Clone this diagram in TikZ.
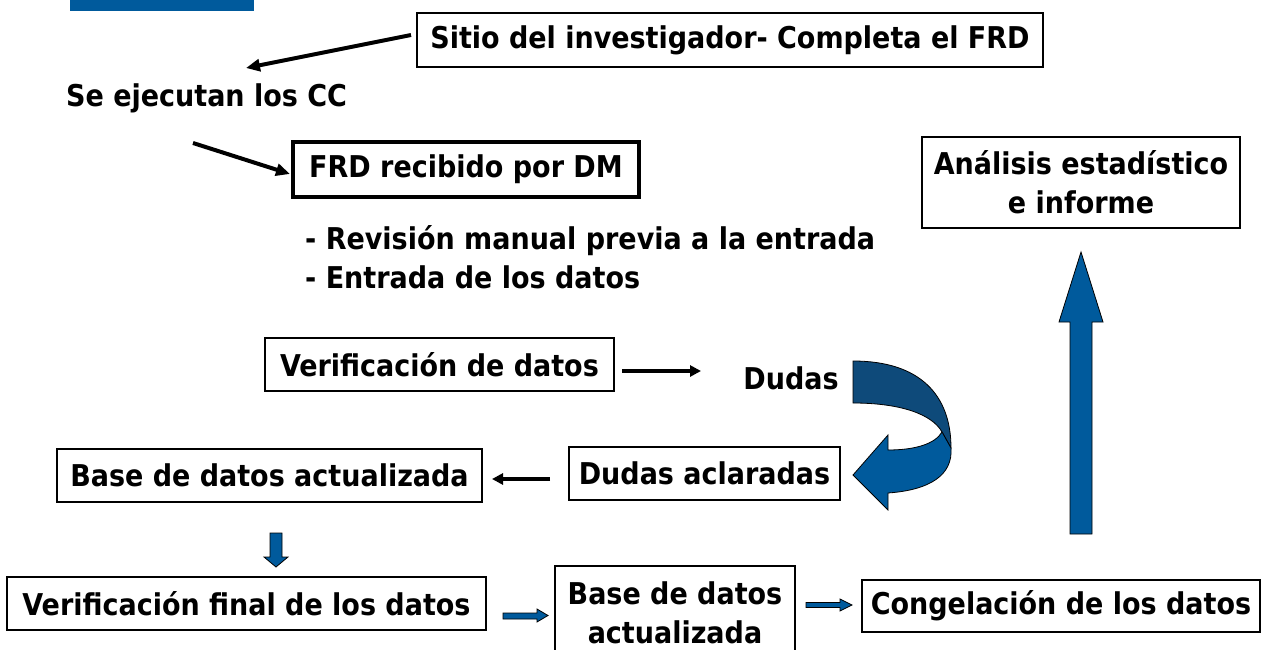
\documentclass[tikz,border=0pt]{standalone}
\usepackage{fontspec}
\setmainfont{DejaVu Sans Condensed}
\usetikzlibrary{arrows.meta}
\definecolor{ablue}{RGB}{0,90,156}
\definecolor{dblue}{RGB}{14,74,122}
\begin{document}
\begin{tikzpicture}[x=1pt,y=-1pt,
  txt/.style={font=\bfseries\fontsize{30}{39}\selectfont, inner sep=0pt},
  box/.style={txt, draw, line width=1.2pt, align=center},
  thickbox/.style={box, line width=4pt},
  blk/.style={line width=4.5pt, -{Triangle[length=11pt,width=11pt]}},
  blockarrow/.style={fill=ablue, draw=black, line width=0.8pt, line join=miter}]
\useasboundingbox (0,0) rectangle (1264,650);
\fill[ablue] (70,0) rectangle (254,11);
% boxes
\node[box, minimum width=626pt, minimum height=54pt] (sitio) at (730,40) {Sitio del investigador- Completa el FRD};
\node[txt, anchor=west] (cc) at (66,98) {Se ejecutan los CC};
\node[thickbox, minimum width=346pt, minimum height=55pt] (frd) at (466,169.5) {FRD recibido por DM};
\node[txt, anchor=west, align=left] (rev) at (305,257.5) {- Revisión manual previa a la entrada\\- Entrada de los datos};
\node[box, minimum width=318pt, minimum height=91pt] (anal) at (1081,182.5) {Análisis estadístico\\e informe};
\node[box, minimum width=349pt, minimum height=53pt] (verif) at (439.5,364.5) {Verificación de datos};
\node[txt] (dudas) at (791,378) {Dudas};
\node[box, minimum width=271pt, minimum height=53pt] (acl) at (704.5,473.5) {Dudas aclaradas};
\node[box, minimum width=425pt, minimum height=53pt] (base1) at (269.5,475.5) {Base de datos actualizada};
\node[box, minimum width=479pt, minimum height=53pt] (vfin) at (246.5,603.5) {Verificación final de los datos};
\node[box, minimum width=240pt, minimum height=94pt] (base2) at (675,613) {Base de datos\\actualizada};
\node[box, minimum width=398pt, minimum height=52pt] (cong) at (1061,606) {Congelación de los datos};
% black arrows
\coordinate (a1s) at (411,35);
\coordinate (a1e) at (246,68);
\draw[line width=4pt, -{Triangle[length=14pt,width=12pt]}] (a1s) -- (a1e);
\coordinate (a2s) at (193,143);
\coordinate (a2e) at (290,174);
\draw[line width=4pt, -{Triangle[length=14pt,width=12pt]}] (a2s) -- (a2e);
\coordinate (a3s) at (622,371);
\coordinate (a3e) at (701,371);
\draw[blk] (a3s) -- (a3e);
\coordinate (a4s) at (550,479);
\coordinate (a4e) at (492,479);
\draw[blk] (a4s) -- (a4e);
% blue block arrows
\draw[blockarrow] (270,533) -- (282,533) -- (282,557) -- (288,557) -- (276,567) -- (264,557) -- (270,557) -- cycle;
\draw[blockarrow] (503,613) -- (537,613) -- (537,609) -- (548,615.5) -- (537,622) -- (537,619) -- (503,619) -- cycle;
\draw[blockarrow] (806,602.5) -- (840,602.5) -- (840,599) -- (852,605) -- (840,611) -- (840,607.5) -- (806,607.5) -- cycle;
\draw[blockarrow] (1070,534) -- (1070,322) -- (1059,322) -- (1081,252) -- (1103,322) -- (1092,322) -- (1092,534) -- cycle;
% curved arrow
\draw[fill=dblue, draw=black, line width=0.8pt] (853,361) .. controls (920,361) and (951,395) .. (951,448) -- (942,432) .. controls (932,414) and (900,403) .. (853,403) -- cycle;
\draw[fill=ablue, draw=black, line width=0.8pt, line join=miter] (942,432) .. controls (935,444) and (915,450) .. (888,450) -- (888,435) -- (853,475) -- (888,510) -- (888,493) .. controls (930,490) and (953,475) .. (951,448) -- cycle;
\end{tikzpicture}
\end{document}
